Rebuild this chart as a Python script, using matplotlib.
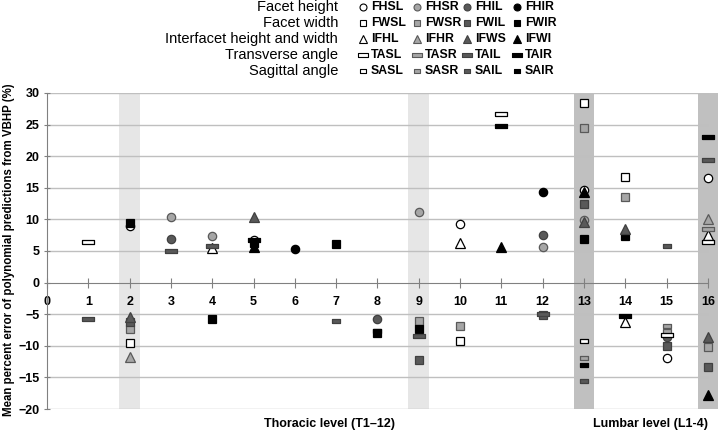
import numpy as np
import matplotlib.pyplot as plt

# vertebral levels 1..16 (T1-12, L1-4)
levels = np.arange(1, 17)
N = None

# mean percent error per series (None = not shown)
FHSL = [N, 8.9, N, N, 6.8, N, N, N, N, 9.2, N, N, 14.6, N, -11.9, 16.5]
FHSR = [N, N, 10.4, 7.4, N, N, N, N, 11.1, N, N, 5.7, 9.9, N, N, N]
FHIL = [N, N, 6.9, N, N, N, N, -5.7, N, N, N, 7.6, N, N, -8.6, N]
FHIR = [N, N, N, N, N, 5.3, N, N, N, N, N, 14.4, N, N, N, N]
FWSL = [N, -9.5, N, N, N, N, N, N, N, -9.2, N, N, 28.4, 16.7, N, N]
FWSR = [N, -7.4, N, N, N, N, N, N, -6.0, -6.8, N, N, 24.4, 13.6, -7.9, -10.2]
FWIL = [N, -6.3, N, N, N, N, N, N, -12.2, N, N, -5.2, 12.5, N, -10.1, -13.4]
FWIR = [N, 9.5, N, -5.7, 6.3, N, 6.1, -7.9, -7.3, N, N, N, 6.9, 7.4, N, N]
IFHL = [N, N, N, 5.4, N, N, N, N, N, 6.3, N, N, N, -6.3, N, 7.5]
IFHR = [N, -11.7, N, N, N, N, N, N, N, N, N, N, N, N, N, 10.0]
IFWS = [N, -5.5, N, N, 10.4, N, N, N, N, N, N, N, 9.6, 8.4, N, -8.6]
IFWI = [N, N, N, N, 5.6, N, N, N, N, N, 5.7, N, 14.4, N, N, -17.8]
TASL = [6.5, N, N, N, N, N, N, N, N, N, 26.7, N, N, N, -8.3, 6.5]
TASR = [N, N, N, N, N, N, N, N, N, N, N, N, N, N, N, 8.4]
TAIL = [-5.8, N, 5.0, 5.8, N, N, N, N, -8.4, N, N, -5.0, N, N, N, 19.4]
TAIR = [N, N, N, N, 6.8, N, N, N, N, N, 24.8, N, N, -5.3, N, 23.0]
SASL = [N, N, N, N, N, N, N, N, N, N, N, N, -9.3, N, N, N]
SASR = [N, N, N, N, N, N, N, N, N, N, N, N, -12.0, N, -6.9, N]
SAIL = [N, N, N, N, N, N, -6.0, N, N, N, N, N, -15.6, N, 5.8, N]
SAIR = [N, N, N, N, N, N, N, -7.6, N, N, N, N, -13.0, N, N, N]

row_names = ['Facet height', 'Facet width', 'Interfacet height and width',
             'Transverse angle', 'Sagittal angle']
codes = [['FHSL', 'FHSR', 'FHIL', 'FHIR'],
         ['FWSL', 'FWSR', 'FWIL', 'FWIR'],
         ['IFHL', 'IFHR', 'IFWS', 'IFWI'],
         ['TASL', 'TASR', 'TAIL', 'TAIR'],
         ['SASL', 'SASR', 'SAIL', 'SAIR']]
series = [[FHSL, FHSR, FHIL, FHIR],
          [FWSL, FWSR, FWIL, FWIR],
          [IFHL, IFHR, IFWS, IFWI],
          [TASL, TASR, TAIL, TAIR],
          [SASL, SASR, SAIL, SAIR]]

light_bands = [2, 9]
dark_bands = [13, 16]

fills = ['#ffffff', '#a6a6a6', '#595959', '#000000']
edges = ['#000000', '#595959', '#404040', '#000000']
bar_long = [(-1.5, -0.5), (1.5, -0.5), (1.5, 0.5), (-1.5, 0.5), (-1.5, -0.5)]
bar_short = [(-1.0, -0.55), (1.0, -0.55), (1.0, 0.55), (-1.0, 0.55), (-1.0, -0.55)]
shapes = ['o', 's', '^', bar_long, bar_short]
sizes = [6, 6, 6.5, 9, 5.5]

plt.rcParams['font.family'] = ['Liberation Sans', 'DejaVu Sans']

fig = plt.figure(figsize=(7.2, 4.3), dpi=100)
ax = fig.add_axes([0.0653, 0.0488, 0.935, 0.735])
ax.set_xlim(0, 16.3)
ax.set_ylim(-20, 30)

for b in light_bands:
    ax.axvspan(b - 0.25, b + 0.25, color='#e6e6e6', lw=0, zorder=0)
for b in dark_bands:
    ax.axvspan(b - 0.25, b + 0.25, color='#c0c0c0', lw=0, zorder=0)

yticks = np.arange(-20, 31, 5)
ax.hlines(yticks[yticks != 0], 0, 16, color='#bfbfbf', lw=1, zorder=1)

for r in range(5):
    for c in range(4):
        vals = np.array([np.nan if v is None else v for v in series[r][c]], dtype=float)
        ax.plot(levels, vals, ls='none', marker=shapes[r], ms=sizes[r],
                mfc=fills[c], mec=edges[c], mew=0.9, zorder=3)

for s in ['top', 'right']:
    ax.spines[s].set_visible(False)
ax.spines['left'].set_color('#808080')
ax.spines['bottom'].set_position(('data', 0))
ax.spines['bottom'].set_bounds(0, 16)
ax.spines['bottom'].set_color('#808080')
ax.spines['bottom'].set_zorder(2)

ax.set_xticks(np.arange(0, 17))
ax.set_xticklabels([str(i) for i in range(17)], fontweight='bold', fontsize=9)
ax.tick_params(axis='x', direction='inout', length=7, color='#808080', pad=6)
ax.set_yticks(yticks)
ax.set_yticklabels([str(v).replace('-', '\u2212') for v in yticks],
                   fontweight='bold', fontsize=9)
ax.tick_params(axis='y', direction='inout', length=5, color='#808080', pad=3)

fig.text(0.012, 0.42, 'Mean percent error of polynomial predictions from VBHP (%)',
         rotation=90, ha='center', va='center', fontweight='bold', fontsize=8.3)
fig.text(0.458, 0.013, 'Thoracic level (T1\u201312)', ha='center', va='center',
         fontweight='bold', fontsize=9)
fig.text(0.903, 0.013, 'Lumbar level (L1-4)', ha='center', va='center',
         fontweight='bold', fontsize=9)

# legend block at the top
lg = fig.add_axes([0, 0, 1, 1], zorder=5)
lg.set_xlim(0, 720)
lg.set_ylim(430, 0)
lg.axis('off')
col_x = [363, 417, 467, 517]
row_y = [7, 23, 39, 55, 71]
leg_sizes = [5, 5, 5.5, 7, 4.5]
for r in range(5):
    lg.text(338, row_y[r], row_names[r], ha='right', va='center', fontsize=10.5)
    for c in range(4):
        lg.plot(col_x[c], row_y[r], ls='none', marker=shapes[r], ms=leg_sizes[r],
                mfc=fills[c], mec=edges[c], mew=0.8)
        lg.text(col_x[c] + 8, row_y[r], codes[r][c], ha='left', va='center',
                fontsize=8.8, fontweight='bold')

fig.savefig('out.png', dpi=100)
